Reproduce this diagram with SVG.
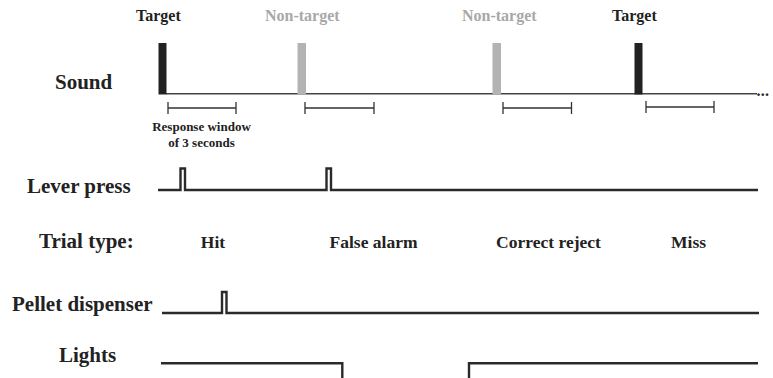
<svg xmlns="http://www.w3.org/2000/svg" width="773" height="378" viewBox="0 0 773 378">
<style>
text{font-family:"Liberation Serif","Times New Roman",serif;font-weight:bold;fill:#222}
.row{font-size:21px}
.cue{font-size:16px}
.nt{fill:#a8a8a8}
.tt{font-size:17.5px}
.small{font-size:13px}
.sig{fill:none;stroke:#2a2a2a;stroke-width:2.4;stroke-linejoin:miter}
.base{fill:none;stroke:#444;stroke-width:1.6}
.win{fill:none;stroke:#333;stroke-width:1.3}
</style>
<rect width="773" height="378" fill="#fff"/>
<g id="labels">
<text class="row" x="55" y="89">Sound</text>
<text class="row" x="27" y="193">Lever press</text>
<text class="row" x="39" y="248">Trial type:</text>
<text class="row" x="12" y="311">Pellet dispenser</text>
<text class="row" x="59" y="362">Lights</text>
</g>
<g id="cue-labels">
<text class="cue" x="136" y="21">Target</text>
<text class="cue nt" x="265" y="21">Non-target</text>
<text class="cue nt" x="462" y="21">Non-target</text>
<text class="cue" x="612" y="21">Target</text>
</g>
<g id="sound">
<path class="base" d="M166,93.8 H757"/>
<rect x="158.5" y="43" width="8" height="51.5" fill="#222"/>
<rect x="297.5" y="43" width="8.5" height="51.5" fill="#b3b3b3"/>
<rect x="492.5" y="43" width="8.5" height="51.5" fill="#b3b3b3"/>
<rect x="634.5" y="43" width="8" height="51.5" fill="#222"/>
<text x="756.5" y="95.5" style="font-size:16px;letter-spacing:0.3px">...</text>
</g>
<g id="windows">
<path class="win" d="M168,102 V114 M168,108 H236 M236,102 V114"/>
<path class="win" d="M305,102 V114 M305,108 H374 M374,102 V114"/>
<path class="win" d="M503,102 V114 M503,108 H571.5 M571.5,102 V114"/>
<path class="win" d="M646,101 V113 M646,107 H714 M714,101 V113"/>
<text class="small" x="201.5" y="131" text-anchor="middle">Response window</text>
<text class="small" x="201.5" y="147" text-anchor="middle">of 3 seconds</text>
</g>
<g id="lever-press">
<path class="sig" d="M158,190 H180.5 V168.5 H185 V190 H326.5 V168.5 H331 V190 H758"/>
</g>
<g id="trial-types">
<text class="tt" x="213" y="248" text-anchor="middle">Hit</text>
<text class="tt" x="373.5" y="248" text-anchor="middle">False alarm</text>
<text class="tt" x="548.5" y="248" text-anchor="middle">Correct reject</text>
<text class="tt" x="688.5" y="248" text-anchor="middle">Miss</text>
</g>
<g id="pellet-dispenser">
<path class="sig" d="M162,313 H222 V292 H226.5 V313 H759"/>
</g>
<g id="lights">
<path class="sig" d="M161,363.3 H342.3 V378"/>
<path class="sig" d="M469,378 V363.3 H758"/>
</g>
</svg>
